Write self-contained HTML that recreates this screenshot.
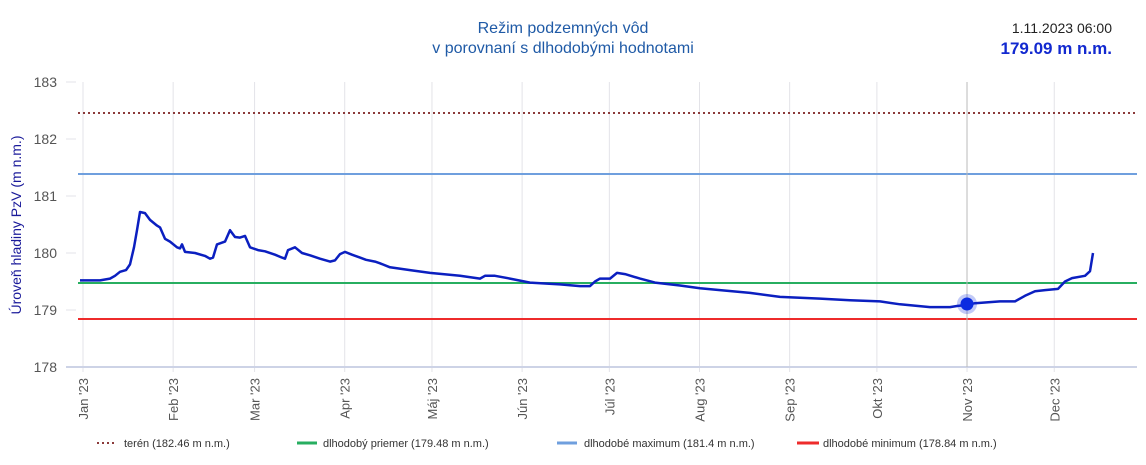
<!DOCTYPE html>
<html><head><meta charset="utf-8"><style>
body{margin:0;background:#fff;width:1146px;height:460px;overflow:hidden;font-family:"Liberation Sans",sans-serif}
</style></head><body>
<svg id="s" width="1146" height="460" xmlns="http://www.w3.org/2000/svg" font-family="Liberation Sans, sans-serif">
<text x="563" y="33" text-anchor="middle" font-size="16" fill="#1f5aa6">Režim podzemných vôd</text>
<text x="563" y="53" text-anchor="middle" font-size="16" fill="#1f5aa6">v porovnaní s dlhodobými hodnotami</text>
<text x="1112" y="33" text-anchor="end" font-size="14" fill="#222">1.11.2023 06:00</text>
<text x="1112" y="54" text-anchor="end" font-size="17" font-weight="bold" fill="#1229d0">179.09 m n.m.</text>
<g id="grid" stroke="#e3e3e8" stroke-width="1"></g>
<line x1="66" y1="367" x2="1137" y2="367" stroke="#cdd3e6" stroke-width="2"/>
<g id="yt" font-size="14" fill="#555" text-anchor="end"></g>
<text transform="translate(21,225) rotate(-90)" text-anchor="middle" font-size="14" fill="#1a1a9a">Úroveň hladiny PzV (m n.m.)</text>
<line x1="78" y1="113" x2="1137" y2="113" stroke="#8b3a3a" stroke-width="2" stroke-dasharray="2,3"/>
<line x1="78" y1="174" x2="1137" y2="174" stroke="#6f9fde" stroke-width="2"/>
<line x1="78" y1="283" x2="1137" y2="283" stroke="#27ae60" stroke-width="2"/>
<line x1="78" y1="319" x2="1137" y2="319" stroke="#ee2b2b" stroke-width="2"/>
<g id="xl" font-size="13" fill="#555"></g>
<path id="d" fill="none" stroke="#0b1fc0" stroke-width="2.5" stroke-linejoin="round"/>
<line x1="967" y1="82" x2="967" y2="367" stroke="#bbb" stroke-width="1"/>
<circle cx="967" cy="304" r="10" fill="#0b2be0" fill-opacity="0.25"/>
<circle cx="967" cy="304" r="6.5" fill="#0b2be0"/>
<g font-size="11" fill="#333">
<line x1="97" y1="443" x2="117" y2="443" stroke="#8b3a3a" stroke-width="2" stroke-dasharray="2,3"/>
<text x="124" y="447">terén (182.46 m n.m.)</text>
<line x1="297" y1="443" x2="317" y2="443" stroke="#27ae60" stroke-width="3"/>
<text x="323" y="447">dlhodobý priemer (179.48 m n.m.)</text>
<line x1="557" y1="443" x2="577" y2="443" stroke="#6f9fde" stroke-width="3"/>
<text x="584" y="447">dlhodobé maximum (181.4 m n.m.)</text>
<line x1="797" y1="443" x2="819" y2="443" stroke="#ee2b2b" stroke-width="3"/>
<text x="823" y="447">dlhodobé minimum (178.84 m n.m.)</text>
</g>
</svg>
<script>
var ns="http://www.w3.org/2000/svg";
function el(t,a,p,txt){var e=document.createElementNS(ns,t);for(var k in a)e.setAttribute(k,a[k]);if(txt)e.textContent=txt;document.getElementById(p).appendChild(e);}
function Y(v){return 82+(183-v)*57;}
for(var v=178;v<=183;v++){el("text",{x:57,y:Y(v)+5},"yt",String(v));if(v>178)el("line",{x1:66,y1:Y(v),x2:76,y2:Y(v)},"grid");}
var m=[["Jan",0],["Feb",31],["Mar",59],["Apr",90],["Máj",120],["Jún",151],["Júl",181],["Aug",212],["Sep",243],["Okt",273],["Nov",304],["Dec",334]];
m.forEach(function(a){var x=83+a[1]*2.908;el("line",{x1:x,y1:82,x2:x,y2:372},"grid");el("text",{transform:"translate("+(x+5)+",378) rotate(-90)","text-anchor":"end"},"xl",a[0]+" '23");});
var p=[80,179.52,100,179.52,110,179.55,115,179.6,120,179.67,126,179.7,130,179.8,134,180.1,137,180.4,140,180.72,145,180.7,150,180.58,157,180.48,160,180.45,165,180.25,170,180.2,177,180.1,180,180.08,182,180.15,185,180.02,195,180.0,205,179.95,210,179.9,213,179.92,217,180.15,225,180.2,230,180.4,235,180.28,240,180.27,245,180.3,250,180.1,258,180.05,265,180.03,275,179.97,282,179.92,285,179.9,288,180.05,295,180.1,302,180.0,310,179.96,320,179.9,330,179.85,335,179.87,340,179.98,345,180.02,352,179.97,360,179.92,366,179.88,375,179.85,380,179.82,390,179.75,410,179.7,430,179.65,460,179.6,480,179.55,485,179.6,495,179.6,510,179.55,530,179.48,560,179.45,580,179.42,590,179.42,595,179.5,600,179.55,610,179.55,617,179.65,625,179.63,640,179.55,655,179.48,680,179.43,700,179.38,720,179.35,750,179.3,780,179.23,820,179.2,850,179.17,880,179.15,900,179.1,930,179.05,950,179.05,957,179.07,967,179.09,975,179.12,1000,179.15,1015,179.15,1025,179.25,1035,179.33,1045,179.35,1058,179.37,1065,179.5,1072,179.56,1085,179.6,1090,179.68,1093,180.0];
var s="";for(var i=0;i<p.length;i+=2)s+=(i?"L":"M")+p[i]+","+Y(p[i+1]).toFixed(1);
document.getElementById("d").setAttribute("d",s);
</script>
</body></html>
